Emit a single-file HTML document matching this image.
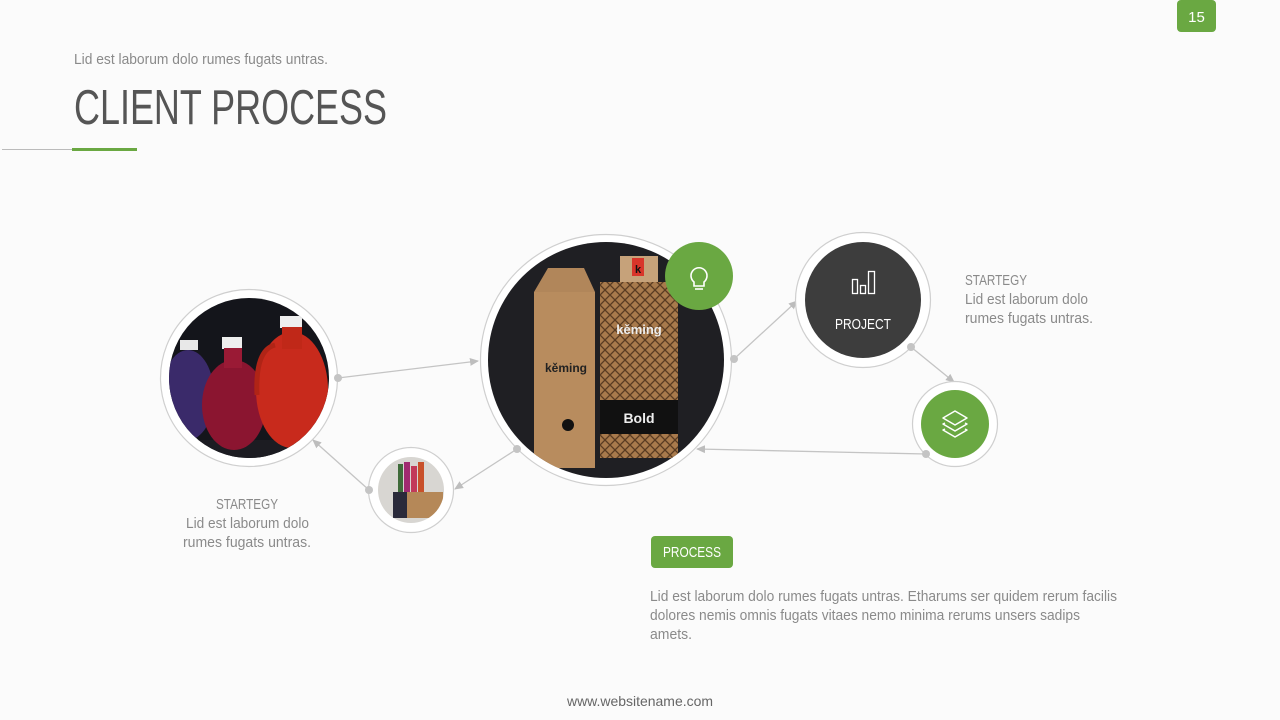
<!DOCTYPE html>
<html><head><meta charset="utf-8"><style>
html,body{margin:0;padding:0;background:#fbfbfb;}
svg{display:block;}
text{font-family:"Liberation Sans",sans-serif;}
</style></head><body>
<svg width="1280" height="720" viewBox="0 0 1280 720" xmlns="http://www.w3.org/2000/svg">
<defs>
<marker id="ar" markerWidth="10" markerHeight="10" refX="8" refY="5" orient="auto" markerUnits="userSpaceOnUse"><path d="M0,1 L9,5 L0,9 Z" fill="#bdbdbd"/></marker>
<clipPath id="cL"><circle cx="249" cy="378" r="80"/></clipPath>
<clipPath id="cM"><circle cx="606" cy="360" r="118"/></clipPath>
<clipPath id="cS"><circle cx="411" cy="490" r="33"/></clipPath>
<pattern id="pat" width="10" height="10" patternUnits="userSpaceOnUse"><rect width="10" height="10" fill="#a87a4c"/><path d="M5,0 L10,5 L5,10 L0,5 Z" fill="none" stroke="#5a3c22" stroke-width="1.3"/></pattern>
</defs>
<rect width="1280" height="720" fill="#fbfbfb"/>
<rect x="1177" y="0" width="39" height="32" rx="4" fill="#6aa842"/>
<text x="1196.5" y="22" font-size="15" fill="#fff" text-anchor="middle">15</text>
<text x="74" y="64" font-size="15" fill="#8a8a8a" textLength="254" lengthAdjust="spacingAndGlyphs">Lid est laborum dolo rumes fugats untras.</text>
<text x="74" y="124" font-size="49" fill="#555" textLength="313" lengthAdjust="spacingAndGlyphs">CLIENT PROCESS</text>
<line x1="2" y1="149.5" x2="137" y2="149.5" stroke="#bbb" stroke-width="1"/>
<rect x="72" y="148" width="65" height="3" fill="#6aa842"/>

<g stroke="#c4c4c4" stroke-width="1.3" fill="none">
<line x1="338" y1="378" x2="478" y2="361" marker-end="url(#ar)"/>
<line x1="734" y1="359" x2="797" y2="301" marker-end="url(#ar)"/>
<line x1="911" y1="347" x2="954" y2="382" marker-end="url(#ar)"/>
<line x1="926" y1="454" x2="697" y2="449" marker-end="url(#ar)"/>
<line x1="517" y1="449" x2="455" y2="489" marker-end="url(#ar)"/>
<line x1="369" y1="490" x2="313" y2="440" marker-end="url(#ar)"/>
</g>

<circle cx="249" cy="378" r="88.5" fill="#fff" stroke="#cfcfcf" stroke-width="1.2"/>
<g clip-path="url(#cL)">
<rect x="160" y="290" width="180" height="180" fill="#14151b"/>
<rect x="160" y="440" width="180" height="30" fill="#1c1c22"/>
<ellipse cx="188" cy="395" rx="26" ry="45" fill="#3a2a6a"/>
<rect x="180" y="340" width="18" height="10" fill="#e8e8e8"/>
<ellipse cx="234" cy="405" rx="32" ry="45" fill="#8b1530"/>
<rect x="222" y="337" width="20" height="12" fill="#eee"/>
<rect x="224" y="348" width="18" height="20" fill="#9a1a35"/>
<ellipse cx="292" cy="390" rx="36" ry="58" fill="#c82a1c"/>
<rect x="280" y="316" width="22" height="12" fill="#eee"/>
<rect x="282" y="327" width="20" height="22" fill="#c02818"/>
<path d="M275,345 q-20,5 -18,50" stroke="#b02416" stroke-width="5" fill="none"/>
</g>

<circle cx="606" cy="360" r="125.5" fill="#fff" stroke="#cfcfcf" stroke-width="1.2"/>
<g clip-path="url(#cM)">
<rect x="488" y="242" width="236" height="236" fill="#1f1f23"/>
<path d="M534,292 L548,268 L584,268 L595,292 L595,468 L534,468 Z" fill="#b1865a"/>
<rect x="534" y="292" width="61" height="176" fill="#b88c5e"/>
<text x="566" y="372" font-size="12" font-weight="bold" fill="#222" text-anchor="middle">kěming</text>
<circle cx="568" cy="425" r="6" fill="#111"/>
<rect x="620" y="256" width="38" height="28" fill="#c6a27a"/>
<rect x="632" y="258" width="12" height="18" fill="#d8352a"/>
<text x="638" y="273" font-size="11" font-weight="bold" fill="#111" text-anchor="middle">k</text>
<rect x="600" y="282" width="78" height="176" fill="url(#pat)"/>
<text x="639" y="334" font-size="13" font-weight="bold" fill="#eee" text-anchor="middle">kěming</text>
<rect x="600" y="400" width="78" height="34" fill="#111"/>
<text x="639" y="423" font-size="14" font-weight="bold" fill="#eee" text-anchor="middle">Bold</text>
</g>
<circle cx="699" cy="276" r="34" fill="#6aa842"/>
<g fill="none" stroke="#fff" stroke-width="1.6">
<path d="M694,282 a8,8 0 1 1 10,0 l0,4 l-10,0 Z"/>
<line x1="695" y1="289" x2="703" y2="289"/>
</g>

<circle cx="863" cy="300" r="67.5" fill="#fff" stroke="#cfcfcf" stroke-width="1.2"/>
<circle cx="863" cy="300" r="58" fill="#3d3d3d"/>
<g fill="none" stroke="#fff" stroke-width="1.3">
<rect x="852.5" y="279.5" width="5" height="14"/><rect x="860.5" y="285.5" width="5" height="8"/><rect x="868.5" y="271.5" width="6" height="22"/>
</g>
<text x="863" y="329" font-size="15" fill="#fff" text-anchor="middle" textLength="56" lengthAdjust="spacingAndGlyphs">PROJECT</text>

<circle cx="955" cy="424" r="42.5" fill="#fff" stroke="#cfcfcf" stroke-width="1.2"/>
<circle cx="955" cy="424" r="34" fill="#6aa842"/>
<g fill="none" stroke="#fff" stroke-width="1.5" stroke-linejoin="round">
<path d="M955,411 L967,418 L955,425 L943,418 Z"/>
<path d="M945,423 L943,424 L955,431 L967,424 L965,423"/>
<path d="M945,429 L943,430 L955,437 L967,430 L965,429"/>
</g>

<circle cx="411" cy="490" r="42.5" fill="#fff" stroke="#cfcfcf" stroke-width="1.2"/>
<g clip-path="url(#cS)">
<rect x="378" y="457" width="66" height="66" fill="#d8d6d2"/>
<rect x="398" y="464" width="5" height="32" fill="#3f6b3a"/>
<rect x="404" y="462" width="6" height="34" fill="#a02a70"/>
<rect x="411" y="466" width="6" height="30" fill="#c23a5a"/>
<rect x="418" y="462" width="6" height="34" fill="#c8502a"/>
<rect x="393" y="492" width="14" height="26" fill="#2a2a3a"/>
<rect x="407" y="492" width="36" height="26" fill="#b58858"/>
</g>

<g fill="#c4c4c4">
<circle cx="338" cy="378" r="4"/><circle cx="734" cy="359" r="4"/><circle cx="911" cy="347" r="4"/>
<circle cx="926" cy="454" r="4"/><circle cx="517" cy="449" r="4"/><circle cx="369" cy="490" r="4"/>
</g>

<g font-size="15" fill="#8a8a8a">
<text x="965" y="285" textLength="62" lengthAdjust="spacingAndGlyphs">STARTEGY</text>
<text x="965" y="304" textLength="123" lengthAdjust="spacingAndGlyphs">Lid est laborum dolo</text>
<text x="965" y="323" textLength="128" lengthAdjust="spacingAndGlyphs">rumes fugats untras.</text>
<text x="216" y="509" textLength="62" lengthAdjust="spacingAndGlyphs">STARTEGY</text>
<text x="186" y="528" textLength="123" lengthAdjust="spacingAndGlyphs">Lid est laborum dolo</text>
<text x="183" y="547" textLength="128" lengthAdjust="spacingAndGlyphs">rumes fugats untras.</text>
<text x="650" y="601" textLength="467" lengthAdjust="spacingAndGlyphs">Lid est laborum dolo rumes fugats untras. Etharums ser quidem rerum facilis</text>
<text x="650" y="620" textLength="430" lengthAdjust="spacingAndGlyphs">dolores nemis omnis fugats vitaes nemo minima rerums unsers sadips</text>
<text x="650" y="639" textLength="42" lengthAdjust="spacingAndGlyphs">amets.</text>
</g>
<rect x="651" y="536" width="82" height="32" rx="4" fill="#6aa842"/>
<text x="692" y="557" font-size="15" fill="#fff" text-anchor="middle" textLength="58" lengthAdjust="spacingAndGlyphs">PROCESS</text>
<text x="640" y="706" font-size="14" fill="#666" text-anchor="middle" textLength="146" lengthAdjust="spacingAndGlyphs">www.websitename.com</text>
</svg>
</body></html>
